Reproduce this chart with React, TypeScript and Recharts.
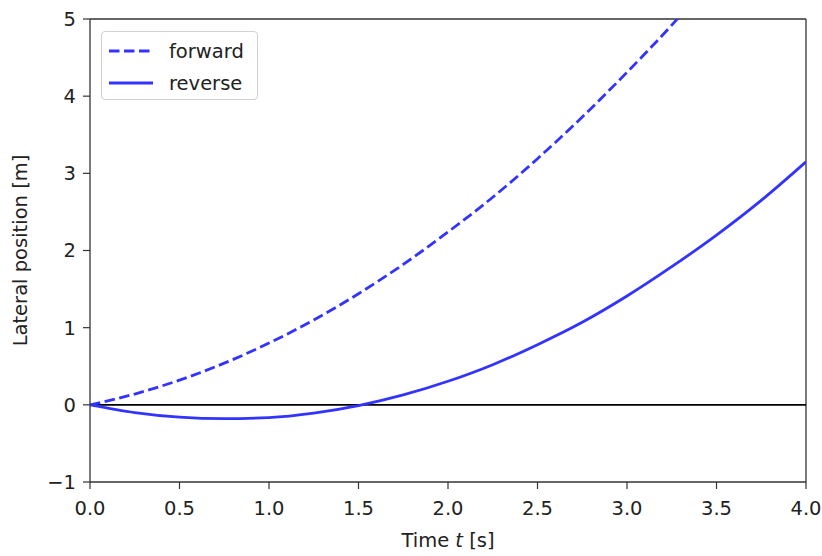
import {
  LineChart,
  Line,
  XAxis,
  YAxis,
  ReferenceLine,
} from "recharts";

// time samples [s] and lateral position [m]
const times = [0, 0.25, 0.5, 0.75, 1.0, 1.25, 1.5, 1.75, 2.0, 2.25, 2.5, 2.75, 3.0, 3.25, 3.5, 3.75, 4.0];
const forward = [0, 0.14, 0.32, 0.54, 0.8, 1.1, 1.44, 1.82, 2.24, 2.69, 3.19, 3.73, 4.31, 4.92, 5.58, null, null];
const reverse = [0, -0.1, -0.16, -0.18, -0.165, -0.107, -0.01, 0.128, 0.305, 0.52, 0.78, 1.07, 1.41, 1.79, 2.2, 2.65, 3.15];

const xTicks = [0, 0.5, 1.0, 1.5, 2.0, 2.5, 3.0, 3.5, 4.0];
const yTicks = [-1, 0, 1, 2, 3, 4, 5];

const data = times.map((t, i) => ({ t, forward: forward[i], reverse: reverse[i] }));

const FONT = "'DejaVu Sans', sans-serif";
const BLUE = "#3333ff";
const DASH = "10.5 4.5";
const SPINE = "#333";
const tickStyle = { fontSize: 19.5, fill: "#222", fontFamily: FONT };

function fmtY(v: number) {
  return v < 0 ? `\u2212${Math.abs(v)}` : String(v);
}

function XLabel({ viewBox }: any) {
  const { x, y, width } = viewBox;
  return (
    <text x={x + width / 2} y={y + 65} textAnchor="middle" fontSize={19.5} fill="#222" fontFamily={FONT}>
      <tspan>Time </tspan>
      <tspan fontStyle="italic">t</tspan>
      <tspan> [s]</tspan>
    </text>
  );
}

function YLabel({ viewBox }: any) {
  const { y, height } = viewBox;
  const cx = 20;
  const cy = y + height / 2;
  return (
    <text
      x={cx}
      y={cy}
      dy="0.35em"
      transform={`rotate(-90, ${cx}, ${cy})`}
      textAnchor="middle"
      fontSize={19.5}
      fill="#222"
      fontFamily={FONT}
    >
      Lateral position [m]
    </text>
  );
}

function LegendBox() {
  const row = { display: "flex", alignItems: "center", height: 32 } as const;
  return (
    <div
      style={{
        position: "absolute",
        left: 101,
        top: 31,
        width: 157,
        height: 69,
        border: "1px solid #d0d0d0",
        borderRadius: 4,
        background: "rgba(255,255,255,0.8)",
        fontFamily: FONT,
        fontSize: 19.5,
        color: "#222",
        padding: "3px 0 0 6px",
        boxSizing: "border-box",
      }}
    >
      <div style={row}>
        <svg width={46} height={10} style={{ marginRight: 15 }}>
          <line x1={1} y1={5} x2={45} y2={5} stroke={BLUE} strokeWidth={2.8} strokeDasharray={DASH} />
        </svg>
        <span>forward</span>
      </div>
      <div style={row}>
        <svg width={46} height={10} style={{ marginRight: 15 }}>
          <line x1={1} y1={5} x2={45} y2={5} stroke={BLUE} strokeWidth={2.8} />
        </svg>
        <span>reverse</span>
      </div>
    </div>
  );
}

export default function App() {
  return (
    <div style={{ position: "relative", width: 822, height: 556 }}>
      <style>{"body { margin: 0; }"}</style>
      <LineChart
        width={822}
        height={556}
        data={data}
        margin={{ top: 19, right: 16, left: 8, bottom: 24 }}
      >
        <XAxis
          dataKey="t"
          type="number"
          domain={[0, 4]}
          ticks={xTicks}
          tickFormatter={(v: number) => v.toFixed(1)}
          tick={tickStyle}
          tickSize={7}
          tickMargin={12}
          height={50}
          axisLine={{ stroke: SPINE, strokeWidth: 1.3 }}
          tickLine={{ stroke: SPINE, strokeWidth: 1.2 }}
          allowDataOverflow
          label={<XLabel />}
        />
        <YAxis
          type="number"
          domain={[-1, 5]}
          ticks={yTicks}
          tickFormatter={fmtY}
          tick={tickStyle}
          tickSize={7}
          tickMargin={7}
          width={82}
          axisLine={{ stroke: SPINE, strokeWidth: 1.3 }}
          tickLine={{ stroke: SPINE, strokeWidth: 1.2 }}
          allowDataOverflow
          label={<YLabel />}
        />
        {/* top and right spines */}
        <ReferenceLine y={5} stroke={SPINE} strokeWidth={1.3} />
        <ReferenceLine x={4} stroke={SPINE} strokeWidth={1.3} />
        <ReferenceLine y={0} stroke="#000" strokeWidth={1.6} />
        <Line
          type="monotone"
          dataKey="forward"
          stroke={BLUE}
          strokeWidth={2.8}
          strokeDasharray={DASH}
          dot={false}
          isAnimationActive={false}
        />
        <Line
          type="monotone"
          dataKey="reverse"
          stroke={BLUE}
          strokeWidth={2.8}
          dot={false}
          isAnimationActive={false}
        />
      </LineChart>
      <LegendBox />
    </div>
  );
}
